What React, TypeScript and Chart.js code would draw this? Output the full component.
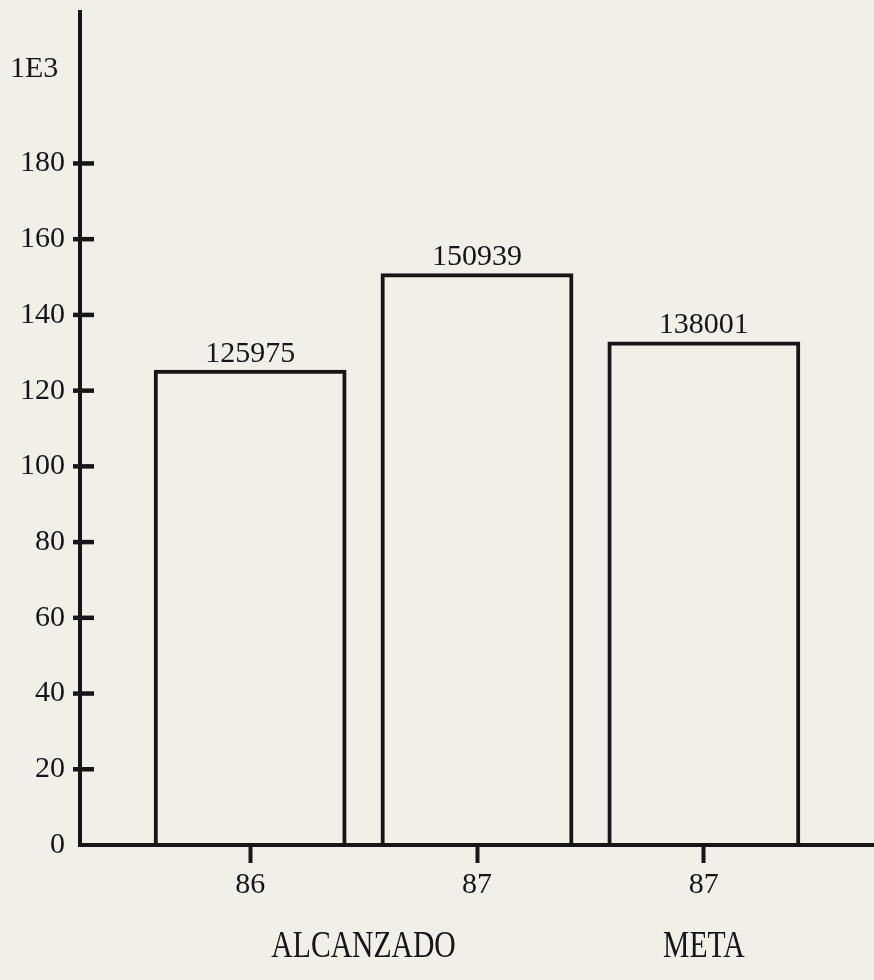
import React, { useEffect, useRef } from "react";
import { Chart, registerables } from "chart.js";

Chart.register(...registerables);

const categories = ["86", "87", "87"];
const barHeights = [125.5, 151, 133];
const valueLabels = ["125975", "150939", "138001"];
const yTickValues = [0, 20, 40, 60, 80, 100, 120, 140, 160, 180];
const groupLabels = ["ALCANZADO", "META"];
const groupCenters = [0.5, 2];
const unitLabel = "1E3";

const INK = "#161616";
const PAPER = "#f0efea";
const SERIF = "'Liberation Serif', 'Times New Roman', serif";

const decorPlugin = {
  id: "decor",
  afterDraw(chart: any) {
    const ctx = chart.ctx;
    const x = chart.scales.x;
    const y = chart.scales.y;
    ctx.save();
    ctx.strokeStyle = INK;
    ctx.fillStyle = INK;
    // crossing tick marks on y axis
    ctx.lineWidth = 4.5;
    y.ticks.forEach((t: any) => {
      if (t.value <= 0) return;
      const py = y.getPixelForValue(t.value);
      ctx.beginPath();
      ctx.moveTo(x.left - 7, py);
      ctx.lineTo(x.left + 14, py);
      ctx.stroke();
    });
    // value labels above bars
    ctx.font = `30px ${SERIF}`;
    ctx.textAlign = "center";
    ctx.textBaseline = "alphabetic";
    const meta = chart.getDatasetMeta(0);
    meta.data.forEach((el: any, i: number) => {
      ctx.fillText(valueLabels[i], el.x, el.y - 8);
    });
    // unit label
    ctx.textAlign = "left";
    ctx.textBaseline = "middle";
    ctx.fillText(unitLabel, 10, y.getPixelForValue(205));
    // group labels (condensed)
    ctx.font = `38px ${SERIF}`;
    ctx.textAlign = "center";
    ctx.textBaseline = "alphabetic";
    groupLabels.forEach((lab, i) => {
      const px = x.getPixelForValue(groupCenters[i]);
      ctx.save();
      ctx.translate(px, 957);
      ctx.scale(0.78, 1);
      ctx.fillText(lab, 0, 0);
      ctx.restore();
    });
    ctx.restore();
  },
};

export default function App() {
  const ref = useRef<HTMLCanvasElement>(null);
  useEffect(() => {
    if (!ref.current) return;
    const chart = new Chart(ref.current, {
      type: "bar",
      data: {
        datasets: [
          {
            data: barHeights.map((v, i) => ({ x: i, y: v })) as any,
            backgroundColor: "rgba(0,0,0,0)",
            borderColor: INK,
            borderWidth: 4,
            barPercentage: 0.85,
            categoryPercentage: 1,
          },
        ],
      },
      options: {
        responsive: false,
        animation: false,
        layout: { padding: { top: 12, left: 0, right: 0, bottom: 0 } },
        plugins: {
          legend: { display: false },
          tooltip: { enabled: false },
        },
        scales: {
          x: {
            type: "linear",
            offset: false,
            min: -0.75,
            max: 2.75,
            afterBuildTicks: (s: any) => {
              s.ticks = categories.map((_, i) => ({ value: i }));
            },
            afterFit: (s: any) => {
              s.height = 135;
              s.paddingLeft = 0;
              s.paddingRight = 0;
            },
            border: { display: true, color: INK, width: 4 },
            grid: {
              offset: false,
              drawOnChartArea: false,
              drawTicks: true,
              tickLength: 18,
              tickWidth: 4,
              tickColor: INK,
              color: INK,
            },
            ticks: {
              color: INK,
              font: { family: SERIF, size: 30 },
              padding: 4,
              maxRotation: 0,
              callback: (v: any) => categories[Math.round(Number(v))] ?? "",
            },
          },
          y: {
            type: "linear",
            min: 0,
            max: 220,
            afterBuildTicks: (s: any) => {
              s.ticks = yTickValues.map((v) => ({ value: v }));
            },
            afterFit: (s: any) => {
              s.width = 80;
              s.paddingTop = 0;
              s.paddingBottom = 0;
            },
            border: { display: true, color: INK, width: 4 },
            grid: { display: true, drawOnChartArea: false, drawTicks: false },
            ticks: {
              color: INK,
              font: { family: SERIF, size: 30 },
              padding: 15,
              callback: (v: any) => String(v),
            },
          },
        },
      } as any,
      plugins: [decorPlugin],
    });
    return () => chart.destroy();
  }, []);
  return (
    <div style={{ position: "absolute", left: 0, top: 0, width: 874, height: 980, background: PAPER }}>
      <canvas ref={ref} width={874} height={980} style={{ display: "block", background: PAPER }} />
    </div>
  );
}
